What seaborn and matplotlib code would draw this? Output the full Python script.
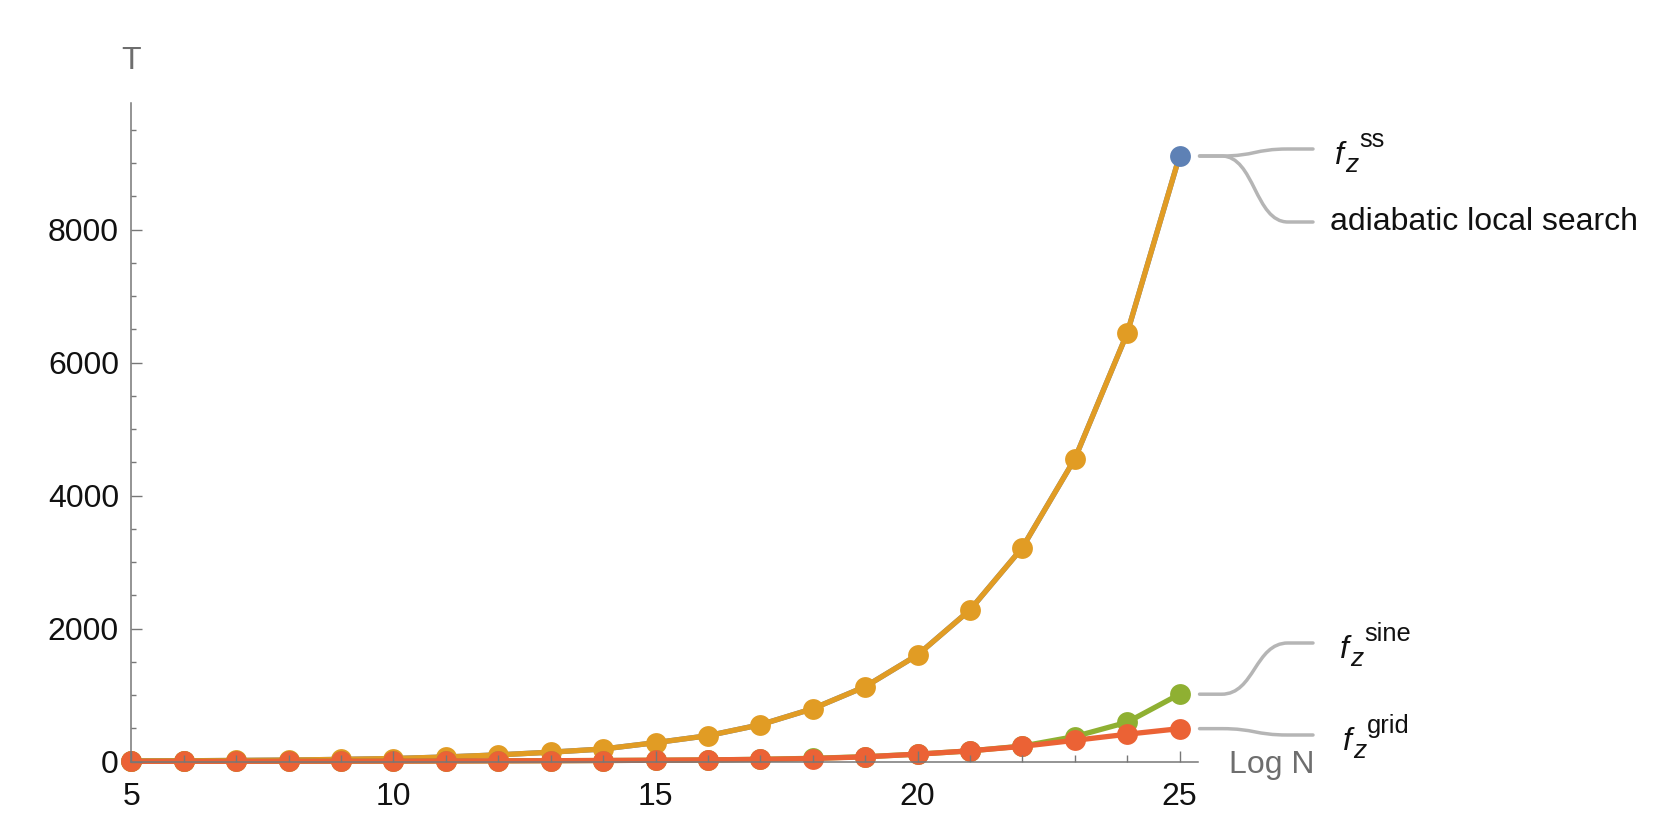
import numpy as np
import pandas as pd
import matplotlib
matplotlib.use("Agg")
import matplotlib.pyplot as plt
import seaborn as sns
from matplotlib.path import Path
from matplotlib.patches import PathPatch
from matplotlib.ticker import FixedLocator, MultipleLocator

# ---------------- data ----------------
log_n = [5, 6, 7, 8, 9, 10, 11, 12, 13, 14, 15, 16, 17, 18, 19, 20, 21, 22, 23, 24, 25]
t_ss = [8, 11, 16, 22, 32, 45, 68, 100, 140, 188, 283, 388, 553, 794, 1125, 1602, 2278, 3215, 4549, 6439, 9105]
t_adiabatic = [8, 11, 16, 22, 32, 45, 68, 100, 140, 188, 283, 388, 553, 794, 1125, 1602, 2278, 3215, 4549, 6439, 9105]
t_sine = [2, 3, 3, 4, 5, 6, 8, 10, 12, 15, 19, 24, 33, 48, 72, 110, 160, 232, 375, 590, 1012]
t_grid = [2, 3, 3, 4, 5, 6, 8, 10, 12, 15, 19, 24, 32, 45, 70, 110, 160, 228, 318, 410, 494]

x_major = [5, 10, 15, 20, 25]
y_major = [0, 2000, 4000, 6000, 8000]
label_adiabatic = "adiabatic local search"
sup_ss = "ss"
sup_sine = "sine"
sup_grid = "grid"
x_title = "Log N"
y_title = "T"

# ---------------- style ----------------
sns.set_theme(style="white")
plt.rcParams["font.family"] = ["Liberation Sans", "DejaVu Sans"]

C_BLUE = "#5E81B5"
C_ORANGE = "#E19C24"
C_GREEN = "#8FB032"
C_RED = "#EB6235"
C_AXIS = "#777777"
C_LEAD = "#b5b5b5"
C_TEXT = "#111111"
FS = 23

W, H = 1676, 838
fig = plt.figure(figsize=(W / 100, H / 100), dpi=100)
fig.patch.set_facecolor("white")
ax = fig.add_axes([110.5 / W, 56.55 / H, 1090 / W, 678.3 / H])
ax.set_facecolor("white")

df = pd.DataFrame({"logN": log_n, "ss": t_ss, "adi": t_adiabatic,
                   "sine": t_sine, "grid": t_grid})
LW = 3.8
MS = 15
n = len(log_n)

sns.lineplot(data=df, x="logN", y="ss", color=C_BLUE, linewidth=LW, ax=ax, zorder=1)
sns.lineplot(data=df, x="logN", y="adi", color=C_ORANGE, linewidth=LW, marker="o",
             markersize=MS, markeredgewidth=0, markevery=list(range(n - 1)), ax=ax, zorder=2)
sns.lineplot(data=df, x="logN", y="sine", color=C_GREEN, linewidth=LW, marker="o",
             markersize=MS, markeredgewidth=0, ax=ax, zorder=3)
sns.lineplot(data=df, x="logN", y="grid", color=C_RED, linewidth=LW, marker="o",
             markersize=MS, markeredgewidth=0, ax=ax, zorder=4)
sns.lineplot(data=df.tail(1), x="logN", y="ss", color=C_BLUE, linewidth=0, marker="o",
             markersize=MS, markeredgewidth=0, ax=ax, zorder=5)

ax.set_xlim(4.6, 25.4)
ax.set_ylim(-300, 9900)
ax.set_xlabel("")
ax.set_ylabel("")

for s in ["top", "right"]:
    ax.spines[s].set_visible(False)
ax.spines["left"].set_position(("data", 5))
ax.spines["bottom"].set_position(("data", 0))
ax.spines["left"].set_bounds(0, 9900)
ax.spines["bottom"].set_bounds(5, 25.36)
for s in ["left", "bottom"]:
    ax.spines[s].set_color(C_AXIS)
    ax.spines[s].set_linewidth(1.1)
    ax.spines[s].set_zorder(10)
ax.xaxis.set_zorder(10)
ax.yaxis.set_zorder(10)

ax.xaxis.set_major_locator(FixedLocator(x_major))
ax.xaxis.set_minor_locator(MultipleLocator(1))
ax.yaxis.set_major_locator(FixedLocator(y_major))
ax.yaxis.set_minor_locator(FixedLocator([v for v in np.arange(500, 9900, 500) if v % 2000 != 0]))
ax.set_xticklabels([str(v) for v in x_major])
ax.set_yticklabels([str(v) for v in y_major])

ax.tick_params(axis="x", which="major", direction="in", length=8, width=1.0,
               color=C_AXIS, labelsize=FS, labelcolor=C_TEXT, pad=15, bottom=True)
ax.tick_params(axis="x", which="minor", direction="in", length=5.4, width=1.0,
               color=C_AXIS, bottom=True)
ax.tick_params(axis="y", which="major", direction="in", length=8, width=1.0,
               color=C_AXIS, labelsize=FS, labelcolor=C_TEXT, pad=9, left=True)
ax.tick_params(axis="y", which="minor", direction="in", length=3.6, width=1.0,
               color=C_AXIS, left=True)
ax.grid(False)

# ---------------- axis titles ----------------
def fpos(x, y_top):
    return x / W, 1 - y_top / H

fig.text(*fpos(131, 61), y_title, fontsize=FS, color="#6e6e6e", ha="center", va="center")
fig.text(*fpos(1229, 765), x_title, fontsize=FS, color="#6e6e6e", ha="left", va="center")

# ---------------- callout labels ----------------
fig.canvas.draw()
renderer = fig.canvas.get_renderer()
to_fig = fig.transFigure.inverted()

def leader(x_data, y_data, y_end_top):
    sx, sy = ax.transData.transform((x_data, y_data))
    sx += 20
    ex, ey = 1313.0, H - y_end_top
    x1 = sx + 22
    x2 = ex - 25
    xm = (x1 + x2) / 2
    verts = [(sx, sy), (x1, sy), (xm, sy), (xm, ey), (x2, ey), (ex, ey)]
    codes = [Path.MOVETO, Path.LINETO, Path.CURVE4, Path.CURVE4, Path.CURVE4, Path.LINETO]
    verts_f = to_fig.transform(verts)
    patch = PathPatch(Path(verts_f, codes), fill=False, edgecolor=C_LEAD, linewidth=2.5,
                      transform=fig.transFigure, capstyle="round", joinstyle="round")
    fig.add_artist(patch)

def fz_label(x0, yl, sup):
    t1 = fig.text(*fpos(x0, yl + 15), "f", fontsize=FS, style="italic",
                  color=C_TEXT, ha="left", va="baseline")
    bb1 = t1.get_window_extent(renderer)
    xz = bb1.x1 + 1
    t2 = fig.text(xz / W, 1 - (yl + 23) / H, "z", fontsize=FS * 0.82, style="italic",
                  color=C_TEXT, ha="left", va="baseline")
    bb2 = t2.get_window_extent(renderer)
    fig.text((bb2.x1 + 1) / W, 1 - (yl - 2) / H, sup, fontsize=FS * 0.8,
             color=C_TEXT, ha="left", va="baseline")

leader(log_n[-1], t_ss[-1], 149)
leader(log_n[-1], t_adiabatic[-1], 222)
leader(log_n[-1], t_sine[-1], 643)
leader(log_n[-1], t_grid[-1], 735)

fz_label(1335, 149, sup_ss)
fig.text(*fpos(1330, 222), label_adiabatic, fontsize=FS, color=C_TEXT, ha="left", va="center")
fz_label(1340, 643, sup_sine)
fz_label(1343, 735, sup_grid)

fig.savefig("out.png", dpi=100, facecolor="white")
